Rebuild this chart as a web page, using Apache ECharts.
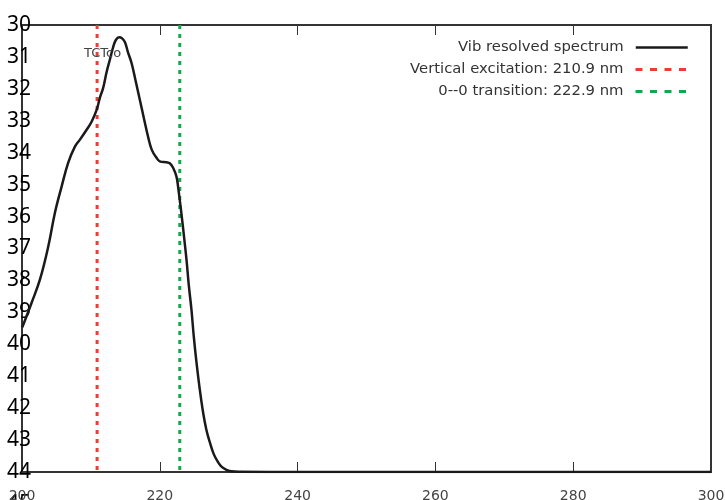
<!DOCTYPE html>
<html>
<head>
<meta charset="utf-8">
<script src="https://cdn.jsdelivr.net/npm/echarts@6/dist/echarts.min.js"></script>
<style>html,body{margin:0;padding:0;background:#fff}#c{width:725px;height:500px}</style>
</head>
<body>
<div id="c"></div>
<script>
// ---- data ----
const specX = [200.04, 201.41, 202.61, 203.81, 204.78, 205.75, 206.71, 207.68, 208.41, 209.38, 210.10, 210.83, 211.30, 211.78, 212.28, 212.75, 213.23, 213.62, 214.10, 214.49, 214.93, 215.36, 215.90, 216.52, 217.10, 217.68, 218.30, 218.84, 219.52, 220.00, 220.97, 221.45, 221.93, 222.42, 222.65, 223.14, 223.48, 223.87, 224.20, 224.59, 224.93, 225.32, 225.80, 226.28, 226.74, 227.25, 227.83, 228.45, 228.99, 229.67, 230.43, 231.59, 240, 260, 280, 300];
const specY = [39.47, 38.69, 37.97, 36.94, 35.88, 35.06, 34.31, 33.81, 33.59, 33.28, 33.03, 32.66, 32.28, 31.97, 31.47, 31.09, 30.69, 30.47, 30.38, 30.41, 30.53, 30.84, 31.19, 31.78, 32.34, 32.91, 33.50, 33.91, 34.16, 34.27, 34.30, 34.33, 34.47, 34.75, 35.06, 35.91, 36.56, 37.34, 38.13, 38.91, 39.75, 40.56, 41.41, 42.13, 42.66, 43.06, 43.44, 43.69, 43.84, 43.93, 43.98, 43.99, 44, 44, 44, 44];
const vertExc = 210.9;
const zeroZero = 222.9;
const seriesNames = ['Vib resolved spectrum', 'Vertical excitation: 210.9 nm', '0--0 transition: 222.9 nm'];
const yLabelMin = 29, yLabelMax = 45;
const plotYMin = 30, plotYMax = 44;
const xMin = 200, xMax = 300, xStep = 20;
const titleText = 'TCTco';

const specData = specX.map((x, i) => [x, specY[i]]);
const vline = (x) => [[x, plotYMin], [x, plotYMax]];

const chart = echarts.init(document.getElementById('c'), null, {renderer: 'canvas'});
const legendBase = (i, top, lineStyle) => ({
  data: [seriesNames[i]], orient: 'horizontal', align: 'right', right: 36, top: top,
  itemWidth: 52, itemHeight: 14, padding: 0,
  itemStyle: {opacity: 0},
  textStyle: {fontFamily: 'DejaVu Sans', fontSize: 14.8, color: '#333', padding: [0, 7, 0, 0]},
  lineStyle: lineStyle
});
chart.setOption({
  animation: false,
  title: {text: titleText, left: 84, top: 47, padding: 0,
    textStyle: {fontFamily: 'DejaVu Sans', fontSize: 13, fontWeight: 'normal', color: '#444'}},
  legend: [
    legendBase(0, 40, {width: 2.5}),
    legendBase(1, 62, {type: [7, 7.5], width: 3}),
    legendBase(2, 84, {type: [7, 7.5], width: 3})
  ],
  grid: [
    {left: 22, right: 14, top: 25, bottom: 28, show: true, borderColor: '#333', borderWidth: 2,
      backgroundColor: 'transparent', outerBoundsMode: 'none'},
    {left: 22, right: 14, top: -7, bottom: -4, outerBoundsMode: 'none'}
  ],
  xAxis: [
    {gridIndex: 0, type: 'value', min: xMin, max: xMax, interval: xStep, position: 'bottom',
      axisLine: {show: false}, splitLine: {show: false},
      axisTick: {show: true, inside: true, length: 10, lineStyle: {color: '#333', width: 1}},
      axisLabel: {margin: 17, fontFamily: 'DejaVu Sans', fontSize: 14, color: '#444'}},
    {gridIndex: 0, type: 'value', min: xMin, max: xMax, interval: xStep, position: 'top',
      axisLine: {show: false}, splitLine: {show: false},
      axisTick: {show: true, inside: true, length: 10, lineStyle: {color: '#333', width: 1}},
      axisLabel: {show: false}},
    {gridIndex: 1, type: 'value', min: 0, max: 1, show: false}
  ],
  yAxis: [
    {gridIndex: 0, type: 'value', min: plotYMin, max: plotYMax, inverse: true,
      axisLine: {show: false}, axisTick: {show: false}, axisLabel: {show: false}, splitLine: {show: false}},
    {gridIndex: 1, type: 'value', min: yLabelMin, max: yLabelMax, interval: 1, inverse: true,
      axisLine: {show: false}, axisTick: {show: false}, splitLine: {show: false},
      axisLabel: {align: 'right', margin: -9, fontFamily: 'Noto Sans', fontSize: 21, color: '#000',
        showMinLabel: true, showMaxLabel: true, hideOverlap: false}}
  ],
  series: [
    {name: seriesNames[0], type: 'line', xAxisIndex: 0, yAxisIndex: 0, data: specData, smooth: 0.4,
      symbol: 'none', lineStyle: {color: '#1a1a1a', width: 2.5}, itemStyle: {color: '#1a1a1a'}, z: 5},
    {name: seriesNames[1], type: 'line', xAxisIndex: 0, yAxisIndex: 0, data: vline(vertExc),
      symbol: 'none', lineStyle: {color: '#ee3b33', width: 3, type: [4, 5]}, itemStyle: {color: '#ee3b33'}, z: 3},
    {name: seriesNames[2], type: 'line', xAxisIndex: 0, yAxisIndex: 0, data: vline(zeroZero),
      symbol: 'none', lineStyle: {color: '#13a84b', width: 3, type: [4, 5]}, itemStyle: {color: '#13a84b'}, z: 3}
  ]
});
</script>
</body>
</html>
